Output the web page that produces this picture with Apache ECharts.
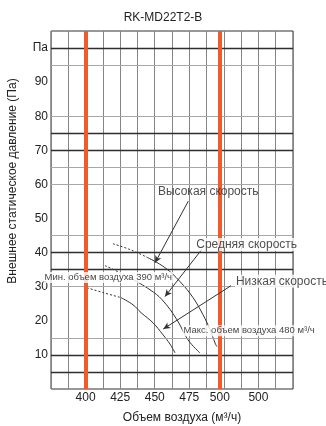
<!DOCTYPE html>
<html><head><meta charset="utf-8">
<script src="https://cdn.jsdelivr.net/npm/echarts@6/dist/echarts.min.js"></script>
<style>html,body{margin:0;padding:0;background:#fff}#c{width:326px;height:426px}</style>
</head><body><div id="c"></div>
<script>
// ---- data ----
const titleText = 'RK-MD22T2-B';
const xName = 'Объем воздуха (м³/ч)';
const yName = 'Внешнее статическое давление (Па)';
const xTickValues = [400, 425, 450, 475, 500, 525];
const xTickLabels = ['400', '425', '450', '475', '500', '500'];
const yTickValues = [10, 20, 30, 40, 50, 60, 70, 80, 90, 100];
const yTickLabels = ['10', '20', '30', '40', '50', '60', '70', '80', '90', 'Па'];
const thickLines = [100, 75, 70, 40, 35, 10, 5];
const thinLines = [95, 80, 65, 60, 45, 30, 15];
const redLines = [400, 497];

const highDashed = [[419.8, 42.6], [432.1, 40.9], [445.1, 38.5]];
const highSolid = [[445.1, 38.5], [457.4, 35.6], [468.3, 31.5], [477.7, 26.8], [484.9, 21.8], [490.0, 17.4], [493.6, 13.5], [495.0, 12.4]];
const midDashed = [[414.0, 36.2], [424.9, 34.1], [435.7, 31.8]];
const midSolid = [[435.7, 31.8], [446.6, 29.1], [455.3, 26.2], [466.1, 20.3], [474.1, 14.4], [482.7, 10.6]];
const lowDashed = [[401.0, 29.7], [413.3, 28.2], [425.6, 26.8]];
const lowSolid = [[425.6, 26.8], [434.3, 24.7], [440.1, 22.4], [448.8, 19.4], [456.0, 15.9], [461.0, 13.2], [464.7, 10.6]];

// annotations (data units)
const arrowStarts = [[474.3, 55.1], [484.0, 40.9], [505.2, 30.3]];
const arrowEnds = [[450.2, 37.0], [457.4, 27.1], [456.2, 17.6]];
const noteTexts = ['Высокая скорость', 'Средняя скорость', 'Низкая скорость', 'Мин. объем воздуха 390 м³/ч', 'Макс. объем воздуха 480 м³/ч'];
const notePoints = [[488.7, 57.9], [516.5, 42.4], [508.0, 31.6], [416.4, 32.7], [518.3, 17.1]];

// ---- chart ----
const FONT = 'Liberation Sans, Arial, Helvetica, sans-serif';
const RED = '#f15a2b';
const CURVE = '#333';
const chart = echarts.init(document.getElementById('c'), null, {renderer: 'canvas'});

function curve(data, dashed) {
  return {
    type: 'line', data: data, smooth: 0.4, showSymbol: false, symbol: 'none', z: 4,
    lineStyle: {color: CURVE, width: 1, type: dashed ? [2, 2] : 'solid'},
    silent: true, animation: false
  };
}

const noteStyles = [
  {position: 'inside', fontSize: 12, backgroundColor: 'transparent'},
  {position: 'inside', fontSize: 12, backgroundColor: '#fff'},
  {position: 'right', distance: 0, fontSize: 12, backgroundColor: '#fff'},
  {position: 'inside', fontSize: 9.5, color: '#111', backgroundColor: '#fff'},
  {position: 'inside', fontSize: 9.5, color: '#111', backgroundColor: '#fff'}
];

const option = {
  animation: false,
  backgroundColor: '#fff',
  title: {
    text: titleText, left: 'center', top: 12, padding: 0,
    textStyle: {fontFamily: FONT, fontSize: 12, fontWeight: 'normal', color: '#222'}
  },
  grid: {left: 51, right: 33, top: 31, bottom: 37, show: true, borderColor: '#333', borderWidth: 1, backgroundColor: 'transparent'},
  xAxis: {
    type: 'value', min: 375, max: 550, interval: 12.5,
    axisLine: {show: false}, axisTick: {show: false},
    splitLine: {show: true, lineStyle: {color: '#858585', width: 1}},
    axisLabel: {
      margin: 3, fontFamily: FONT, fontSize: 12, color: '#222', showMinLabel: true, showMaxLabel: true,
      formatter: function (v) {
        const i = xTickValues.indexOf(v);
        if (i < 0) return '';
        return v === 500 ? '{s|' + xTickLabels[i] + '}' : xTickLabels[i];
      },
      rich: {s: {fontFamily: FONT, fontSize: 12, color: '#222', padding: [0, 8, 0, 0]}}
    }
  },
  yAxis: {
    type: 'value', min: 0, max: 105, interval: 5,
    axisLine: {show: false}, axisTick: {show: false}, splitLine: {show: false},
    axisLabel: {
      margin: 3, fontFamily: FONT, fontSize: 12, color: '#222',
      formatter: function (v) {
        const i = yTickValues.indexOf(v);
        return i < 0 ? '' : yTickLabels[i];
      }
    }
  },
  graphic: [
    {type: 'text', x: 13, y: 181, rotation: Math.PI / 2,
      style: {text: yName, font: '12px ' + FONT, fill: '#222', align: 'center', verticalAlign: 'middle'}},
    {type: 'text', x: 182, y: 418,
      style: {text: xName, font: '12px ' + FONT, fill: '#222', align: 'center', verticalAlign: 'middle'}}
  ],
  series: [
    {
      type: 'line', data: [], z: 1, silent: true,
      markLine: {
        silent: true, symbol: 'none', label: {show: false}, animation: false,
        data: thinLines.map(v => ({yAxis: v, lineStyle: {color: '#a8a8a8', width: 1, type: 'solid'}}))
          .concat(thickLines.map(v => ({yAxis: v, lineStyle: {color: '#2e2e2e', width: 1.3, type: 'solid'}})))
      }
    },
    {
      type: 'line', data: [], z: 2, silent: true,
      markLine: {
        silent: true, symbol: 'none', label: {show: false}, animation: false,
        data: redLines.map(v => ({xAxis: v, lineStyle: {color: RED, width: 4, type: 'solid'}}))
      }
    },
    curve(highDashed, true), curve(highSolid, false),
    curve(midDashed, true), curve(midSolid, false),
    curve(lowDashed, true), curve(lowSolid, false),
    {
      type: 'line', data: [], z: 5, silent: true,
      markLine: {
        silent: true, symbol: ['none', 'arrow'], symbolSize: [5, 7], label: {show: false}, animation: false,
        lineStyle: {color: CURVE, width: 1, type: 'solid'},
        data: arrowStarts.map((s, i) => [{coord: s}, {coord: arrowEnds[i]}])
      }
    },
    {
      type: 'scatter', z: 6, symbolSize: 0, silent: true,
      data: notePoints.map((p, i) => ({
        value: p,
        label: Object.assign({
          show: true, formatter: noteTexts[i], fontFamily: FONT, color: '#222',
          padding: [1, 1, 0, 1]
        }, noteStyles[i])
      }))
    }
  ]
};
chart.setOption(option);
</script>
</body></html>
